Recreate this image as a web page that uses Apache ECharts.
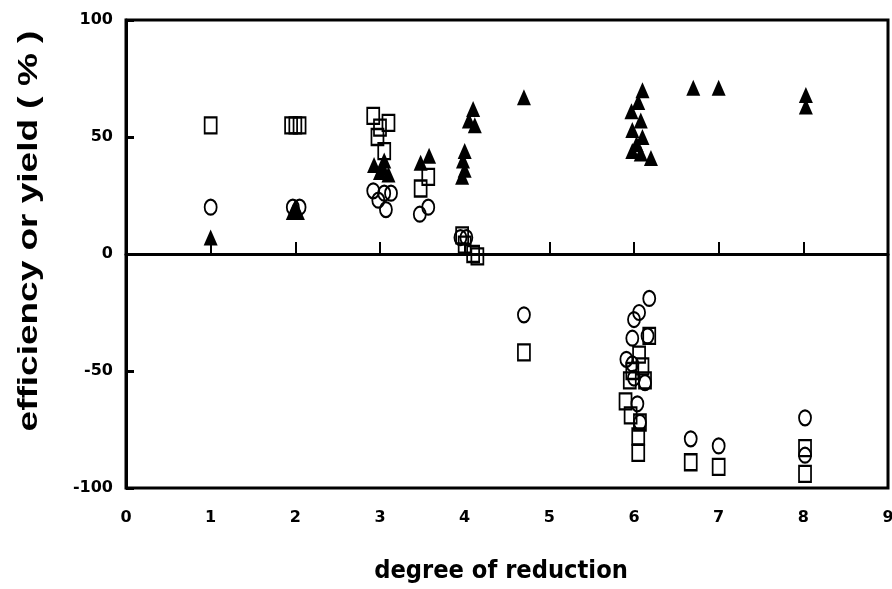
<!DOCTYPE html>
<html>
<head>
<meta charset="utf-8">
<script src="https://cdn.jsdelivr.net/npm/echarts@6/dist/echarts.min.js"></script>
<style>html,body{margin:0;padding:0;background:#fff}#c{width:892px;height:589px}</style>
</head>
<body>
<div id="c"></div>
<script>
var xTicks = [0,1,2,3,4,5,6,7,8,9];
var yTicks = [-100,-50,0,50,100];
var xTitle = 'degree of reduction';
var yTitle = 'efficiency or yield ( % )';

var triX = [1, 1.97,2.03,2.0, 2.93,3.0,3.05,3.1,3.03, 3.48,3.58, 3.97,4.0,3.98,4.0, 4.05,4.1,4.12, 4.7, 6.1,6.05,5.97,6.08,5.98,6.1,6.03,5.98,6.08,6.2, 6.7,7.0, 8.03,8.03];
var triY = [7, 18,18,20, 38,35,40,34,37, 39,42, 33,36,40,44, 57,62,55, 67, 70,65,61,57,53,50,47,44,43,41, 71,71, 68,63];

var sqX = [1, 1.95,2.05,2.0, 2.92,3.1,3.0,2.97,3.05, 3.48,3.57, 3.97,4.0,4.1,4.15, 4.7, 6.18,6.06,6.1,5.95,6.13,5.9,5.96,6.07,6.05,6.05,5.98, 6.67,7.0, 8.02,8.02];
var sqY = [55, 55,55,55, 59,56,54,50,44, 28,33, 8,4,0,-1, -42, -35,-43,-48,-54,-54,-63,-69,-72,-78,-85,-50, -89,-91, -83,-94];

var cirX = [1, 1.97,2.05, 2.92,3.05,3.13,2.98,3.07, 3.47,3.57, 3.95,4.02, 4.7, 6.18,6.06,6.0,5.98,6.16,5.91,5.98,6.0,6.13,6.04,6.07, 6.67,7.0, 8.02,8.02];
var cirY = [20, 20,20, 27,26,26,23,19, 17,20, 7,7, -26, -19,-25,-28,-36,-35,-45,-47,-53,-55,-64,-72, -79,-82, -70,-86];

function pairs(xs, ys){ return xs.map(function(x,i){ return [x, ys[i]]; }); }

var chart = echarts.init(document.getElementById('c'), null, {renderer:'canvas'});
var labelFont = {fontFamily:'DejaVu Sans', fontWeight:'bold', fontSize:16, color:'#000'};
chart.setOption({
  animation:false,
  backgroundColor:'#fff',
  grid:{left:126, right:4, top:20, bottom:101, containLabel:false, outerBoundsMode:'none',
        show:true, borderColor:'#000', borderWidth:3, backgroundColor:'transparent'},
  xAxis:{
    type:'value', min:0, max:9, interval:1,
    axisLine:{show:true, lineStyle:{color:'#000', width:3}},
    axisTick:{show:true, inside:true, length:12, lineStyle:{color:'#000', width:2}},
    axisLabel:Object.assign({margin:22, formatter:function(v){return xTicks.indexOf(v)>=0?String(v):'';}}, labelFont),
    splitLine:{show:false}
  },
  yAxis:{
    type:'value', min:-100, max:100, interval:50,
    axisLine:{show:true, lineStyle:{color:'#000', width:3}},
    axisTick:{show:true, inside:true, length:8, lineStyle:{color:'#000', width:3}},
    axisLabel:Object.assign({margin:13, formatter:function(v){return yTicks.indexOf(v)>=0?String(v):'';}}, labelFont),
    splitLine:{show:false}
  },
  graphic:[
    {type:'text', x:501, y:572, scaleX:1.05, style:{text:xTitle, fontFamily:'DejaVu Sans Condensed, Liberation Sans Narrow, Roboto',
      fontWeight:'bold', fontSize:24, fill:'#000', textAlign:'center', textVerticalAlign:'middle'}},
    {type:'text', x:30, y:231, rotation:Math.PI/2, scaleX:1.37, style:{text:yTitle, fontFamily:'Liberation Sans, Arial',
      fontWeight:'bold', fontSize:27, fill:'#000', textAlign:'center', textVerticalAlign:'middle'}}
  ],
  series:[
    {type:'scatter', data:pairs(sqX, sqY), symbol:'rect', symbolSize:[12,16],
     itemStyle:{color:'rgba(0,0,0,0)', borderColor:'#000', borderWidth:2, opacity:1},
     markLine:{silent:true, symbol:'none', label:{show:false}, lineStyle:{color:'#000', width:3, type:'solid', opacity:1}, data:[{yAxis:0}]}},
    {type:'scatter', data:pairs(cirX, cirY), symbol:'circle', symbolSize:[12,15],
     itemStyle:{color:'rgba(0,0,0,0)', borderColor:'#000', borderWidth:2, opacity:1}},
    {type:'scatter', data:pairs(triX, triY), symbol:'triangle', symbolSize:[14,16],
     itemStyle:{color:'#000', opacity:1}}
  ]
});
</script>
</body>
</html>
